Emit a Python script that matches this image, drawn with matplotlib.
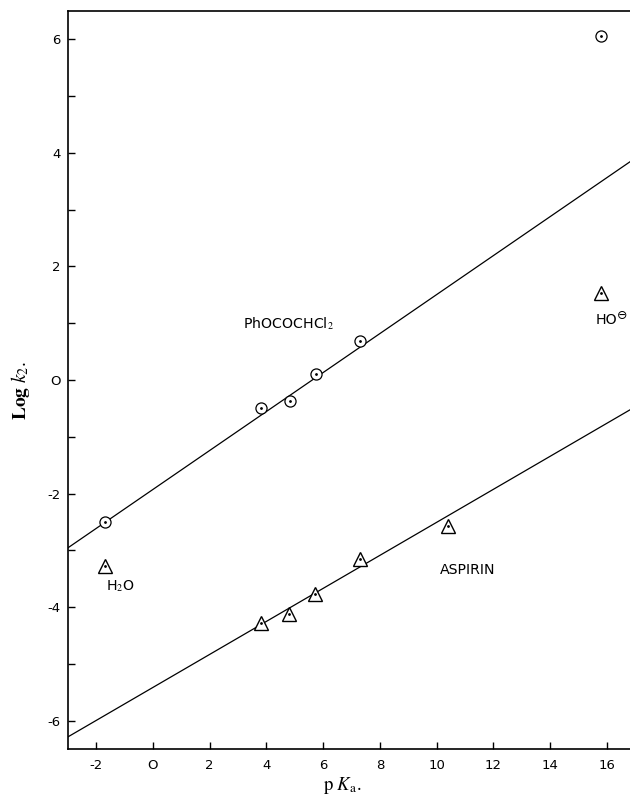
import matplotlib
matplotlib.use('Agg')
import matplotlib.pyplot as plt
import numpy as np

plt.rcParams['mathtext.fontset'] = 'stix'
plt.rcParams['font.family'] = ['DejaVu Sans']

# Data
ester_pka = [-1.7, 3.8, 4.85, 5.75, 7.3, 15.8]
ester_logk = [-2.5, -0.5, -0.37, 0.1, 0.69, 6.06]
aspirin_pka = [-1.7, 3.8, 4.8, 5.7, 7.3, 10.4, 15.8]
aspirin_logk = [-3.27, -4.28, -4.12, -3.77, -3.15, -2.57, 1.53]

# Fitted lines (slope, intercept)
ester_fit = (0.3435, -1.93)
aspirin_fit = (0.291, -5.417)
line_pka = [-3, 17]

x_ticks = [-2, 0, 2, 4, 6, 8, 10, 12, 14, 16]
x_tick_labels = ['-2', 'O', '2', '4', '6', '8', '10', '12', '14', '16']
y_ticks = [-6, -5, -4, -3, -2, -1, 0, 1, 2, 3, 4, 5, 6]
y_tick_labels = ['-6', '', '-4', '', '-2', '', 'O', '', '2', '', '4', '', '6']

W, H = 630, 802
fig = plt.figure(figsize=(W / 100, H / 100), dpi=100)
left_px, right_px, top_px, bot_px = 67.6, 635.4, 11, 749
ax = fig.add_axes([left_px / W, 1 - bot_px / H, (right_px - left_px) / W, (bot_px - top_px) / H])

lx = np.array(line_pka, dtype=float)
ax.plot(lx, ester_fit[0] * lx + ester_fit[1], color='black', lw=0.9)
ax.plot(lx, aspirin_fit[0] * lx + aspirin_fit[1], color='black', lw=0.9)

ax.plot(ester_pka, ester_logk, linestyle='none', marker='o', markersize=8,
        markerfacecolor='white', markeredgecolor='black', markeredgewidth=0.9)
ax.plot(ester_pka, ester_logk, linestyle='none', marker='o', markersize=1.0,
        color='black')
ax.plot(aspirin_pka, aspirin_logk, linestyle='none', marker='^', markersize=9.5,
        markerfacecolor='white', markeredgecolor='black', markeredgewidth=1.0)
ax.plot(aspirin_pka, aspirin_logk, linestyle='none', marker='o', markersize=1.0,
        color='black')

ax.set_xlim(-3, 17)
ax.set_ylim(-6.5, 6.5)
ax.set_xticks(x_ticks)
ax.set_xticklabels(x_tick_labels)
ax.set_yticks(y_ticks)
ax.set_yticklabels(y_tick_labels)
ax.tick_params(direction='in', length=5, width=1.0, labelsize=9.5, colors='black')
ax.tick_params(axis='x', pad=7)
ax.tick_params(axis='y', pad=5)

for s in ['left', 'bottom', 'top']:
    ax.spines[s].set_linewidth(1.2)
ax.spines['right'].set_visible(False)

ax.text(4.79, 1.0, 'PhOCOCHCl$_2$', ha='center', va='center', fontsize=10.2)
ax.text(11.08, -3.35, 'ASPIRIN', ha='center', va='center', fontsize=10.2)
ax.text(-1.66, -3.63, 'H$_2$O', ha='left', va='center', fontsize=10.2)
ho = ax.text(15.6, 1.05, 'HO', ha='left', va='center', fontsize=10.2)
ax.annotate('\u2296', xy=(1.0, 0.35), xycoords=ho, ha='left', va='bottom',
            fontsize=9, annotation_clip=False)

fig.text(20 / W, 1 - 390 / H, r'$\mathbf{Log}\ k_{2}.$', rotation=90,
         ha='center', va='center', fontsize=14)
fig.text(342 / W, 1 - 785 / H, r'$\mathrm{p}\ K_{\mathrm{a}}.$',
         ha='center', va='center', fontsize=13.5)

fig.savefig('out.png', dpi=100)
